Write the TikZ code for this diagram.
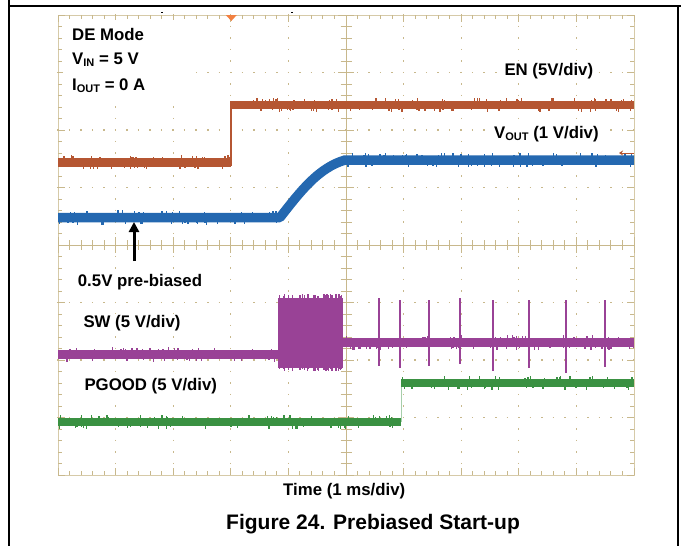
\documentclass[tikz,border=0pt]{standalone}
\usepackage{fontspec}
\setmainfont{Liberation Sans}
\usetikzlibrary{arrows.meta}
\definecolor{enc}{RGB}{181,86,50}
\definecolor{voc}{RGB}{36,104,176}
\definecolor{swc}{RGB}{153,66,150}
\definecolor{pgc}{RGB}{58,145,66}
\definecolor{gridc}{RGB}{200,184,140}
\definecolor{gridl}{RGB}{214,202,168}
\definecolor{trigc}{RGB}{242,128,64}
\newcommand\lowsub[1]{\raisebox{-2pt}{\fontsize{11}{11}\selectfont #1}}
\newcommand\noiseband[5]{%
  \foreach \k in {1,...,#5}{%
    \pgfmathsetmacro\nx{#1+rnd*(#2-#1)}%
    \pgfmathsetmacro\nl{1+2.5*rnd}%
    \pgfmathsetmacro\ns{rnd<0.5?-1:1}%
    \draw[#4,line width=1.3pt] (\nx,{#3+\ns*3.8}) -- ++(0,{\ns*\nl});
  }}
\begin{document}
\begin{tikzpicture}[x=1pt,y=-1pt,
  gridb/.style={gridc,line width=1pt},
  gridd/.style={gridc,line width=1.2pt},
  trace/.style={line width=8.5pt,line cap=butt,line join=round},
  lbl/.style={font=\bfseries\fontsize{16.8}{20}\selectfont,anchor=base west,inner sep=2pt,fill=white},
  figcap/.style={font=\bfseries\fontsize{21}{24}\selectfont,anchor=base west,inner sep=0pt},
  pageframe/.style={black,line width=1.5pt},
  pointer/.style={black,line width=3pt,-{Triangle[width=10pt,length=10pt]}}]
\useasboundingbox (0,0) rectangle (683,546);
\fill[white] (0,0) rectangle (683,546);
\pgfmathsetseed{42}
% ---------- grid ----------
\draw[gridl,line width=1pt] (58,15) rectangle (634,475);
\draw[gridb] (346,15) -- (346,475);
\draw[gridb] (58,245) -- (634,245);
\foreach \k in {0,...,50}{
  \pgfmathsetmacro\tx{58+11.52*\k}
  \pgfmathsetmacro\tl{mod(\k,5)==0 ? 7 : 4}
  \pgfmathsetmacro\cl{mod(\k,5)==0 ? 8 : 5}
  \draw[gridb] (\tx,15) -- ++(0,\tl);
  \draw[gridb] (\tx,475) -- ++(0,-\tl);
  \draw[gridb] (\tx,245-\cl) -- (\tx,245+\cl);
}
\foreach \k in {0,...,40}{
  \pgfmathsetmacro\ty{15+11.5*\k}
  \pgfmathsetmacro\tl{mod(\k,5)==0 ? 7 : 4}
  \pgfmathsetmacro\cl{mod(\k,5)==0 ? 8 : 5.5}
  \draw[gridb] (58,\ty) -- ++(\tl,0);
  \draw[gridb] (634,\ty) -- ++(-\tl,0);
  \draw[gridb] (346-\cl,\ty) -- (346+\cl,\ty);
}
\foreach \i in {1,2,3,4,6,7,8,9}
  \draw[gridd,dash pattern=on 1.5pt off 10pt] ({58+57.6*\i},14.25) -- ({58+57.6*\i},475);
\foreach \j in {1,2,3,5,6,7}
  \draw[gridd,dash pattern=on 1.5pt off 10.02pt] (57.25,{15+57.5*\j}) -- (634,{15+57.5*\j});
% tiny marks above the graticule
\fill[black] (161.3,11.8) rectangle (162.8,13.3);
\fill[black] (291.3,11.8) rectangle (292.8,13.3);
% ---------- EN ----------
\draw[trace,enc] (58,162.5) -- (231,162.5);
\draw[enc,line width=1.5pt] (231,166) -- (231,101);
\draw[trace,enc] (231,105) -- (634,105);
\noiseband{58}{231}{162.5}{enc}{45}
\noiseband{231}{634}{105}{enc}{90}
% ---------- VOUT ----------
\draw[trace,voc,line width=9.5pt] (58,217.5) -- (280,217.5) .. controls (300,192) and (318,168) .. (345,160) -- (634,160);
\noiseband{58}{280}{217.5}{voc}{50}
\noiseband{345}{634}{160}{voc}{70}
% ---------- SW ----------
\draw[trace,swc] (58,354.5) -- (279,354.5);
\fill[swc] (278,297.5) rectangle (343,367.5);
\draw[trace,swc] (342,342.5) -- (634,342.5);
\noiseband{58}{278}{354.5}{swc}{45}
\noiseband{343}{634}{342.5}{swc}{70}
\foreach \k in {1,...,40}{
  \pgfmathsetmacro\bx{279+rnd*63}
  \pgfmathsetmacro\bt{1+3*rnd}
  \pgfmathsetmacro\bb{1+3*rnd}
  \draw[swc,line width=1.2pt] (\bx,297.5) -- ++(0,-\bt);
  \draw[swc,line width=1.2pt] (\bx,367.5) -- ++(0,\bb);
}
\foreach \sx/\sa/\sb in {379/298/366,400/300/368,429/300/366,460/298/364,493/300/371,529/300/368,566/300/373,605/300/367}
  \draw[swc,line width=1.3pt] (\sx,\sa) -- (\sx,\sb);
% ---------- PGOOD ----------
\draw[trace,pgc] (58,422) -- (401,422);
\draw[pgc!45,line width=1pt] (401,422) -- (401,383);
\draw[trace,pgc] (401,383) -- (634,383);
\noiseband{58}{401}{422}{pgc}{60}
\noiseband{401}{634}{383}{pgc}{45}
% ---------- markers ----------
\fill[trigc] (225.8,15) -- (236.8,15) -- (231.3,21) -- cycle;
\coordinate (reftail) at (634,153);
\coordinate (refhead) at (619,153);
\draw[enc,line width=1pt,-{Stealth[length=4pt,width=5pt]}] (reftail) -- (refhead);
% ---------- labels ----------
\fill[white] (63,20) rectangle (196,101);
\node[lbl] (mode) at (70,40.3) {DE Mode};
\node[lbl] (vin) at (70,64.3) {V\lowsub{IN} = 5 V};
\node[lbl] (iout) at (70,90.3) {I\lowsub{OUT} = 0 A};
\node[lbl] (en) at (502.3,75) {EN (5V/div)};
\node[lbl] (vout) at (492,138.3) {V\lowsub{OUT} (1 V/div)};
\node[lbl] (pre) at (75.7,286.7) {0.5V pre-biased};
\node[lbl] (sw) at (81.3,327.7) {SW (5 V/div)};
\node[lbl] (pg) at (82.3,390) {PGOOD (5 V/div)};
\node[lbl,fill=none] (time) at (281,495) {Time (1 ms/div)};
\node[figcap] (fig) at (226,529) {Figure 24. Prebiased Start-up};
% ---------- pre-bias arrow ----------
\coordinate (arrowtail) at (134,261);
\coordinate (arrowtip) at (134,222);
\draw[pointer] (arrowtail) -- (arrowtip);
% ---------- page frame ----------
\draw[pageframe] (9,0) -- (9,546);
\draw[pageframe] (9,6) -- (681,6);
\draw[pageframe] (678,6) -- (678,546);
\end{tikzpicture}
\end{document}
